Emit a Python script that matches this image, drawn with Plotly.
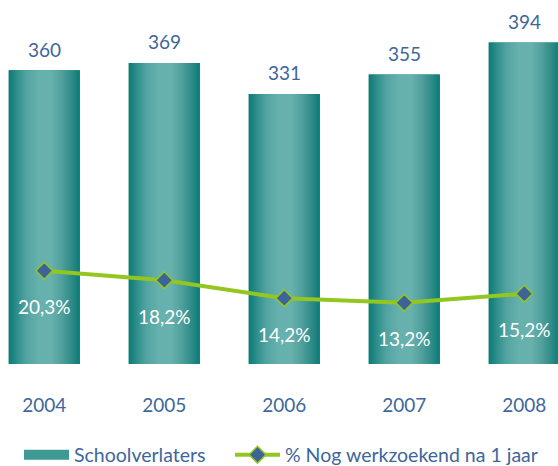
import plotly.graph_objects as go

years = ["2004", "2005", "2006", "2007", "2008"]
schoolverlaters = [360, 369, 331, 355, 394]
pct_werkzoekend = [20.3, 18.2, 14.2, 13.2, 15.2]
pct_labels = ["20,3%", "18,2%", "14,2%", "13,2%", "15,2%"]

name_bars = "Schoolverlaters"
name_line = "% Nog werkzoekend na 1 jaar"

FONT = "Lato"
BLUE = "#3D679C"
TEAL_DARK = "#0B7C78"
GREEN = "#93C71F"
DIAMOND = "#3C6498"
grad = [[0.0, "#0A7B77"], [0.1, "#2B8C88"], [0.25, "#52A4A1"], [0.42, "#66B0AD"],
        [0.6, "#67B1AE"], [0.75, "#4F9F9C"], [0.9, "#2A8985"], [1.0, "#0A7B77"]]

xs = list(range(len(years)))
bw = 0.592

fig = go.Figure()
fig.add_trace(go.Bar(x=xs, y=schoolverlaters, width=bw, marker=dict(color=TEAL_DARK, line=dict(width=0)),
                     showlegend=False, hoverinfo="skip"))
# gradient overlays drawn on the same axes from the bar values
for x, v in zip(xs, schoolverlaters):
    fig.add_trace(go.Scatter(
        x=[x - bw / 2, x + bw / 2, x + bw / 2, x - bw / 2, x - bw / 2],
        y=[0, 0, v, v, 0], mode="lines", line=dict(width=0), fill="toself",
        fillgradient=dict(type="horizontal", colorscale=grad),
        showlegend=False, hoverinfo="skip"))
# legend entry for the bars
fig.add_trace(go.Scatter(x=[None], y=[None], mode="lines", name=name_bars, legend="legend",
                         line=dict(color="#3E9995", width=13)))
fig.add_trace(go.Scatter(
    x=xs, y=pct_werkzoekend, yaxis="y2", mode="lines+markers", name=name_line, legend="legend2",
    line=dict(color=GREEN, width=4),
    marker=dict(symbol="diamond", size=13, color=DIAMOND, line=dict(color=GREEN, width=1.5))))

for x, v in zip(xs, schoolverlaters):
    fig.add_annotation(x=x, y=v, text=str(v), showarrow=False, yshift=21,
                       font=dict(family=FONT, size=19, color=BLUE))
for x, v, t in zip(xs, pct_werkzoekend, pct_labels):
    fig.add_annotation(x=x, y=v, yref="y2", text=t, showarrow=False, yshift=-36,
                       font=dict(family=FONT, size=19, color="white"))

top, bottom = 10, 364
H = bottom - top
legend_common = dict(orientation="h", xanchor="left", xref="container",
                     y=(466 - 455) / 466, yanchor="middle", yref="container",
                     font=dict(family=FONT, size=19.5, color=BLUE), itemwidth=45,
                     bgcolor="rgba(0,0,0,0)")
fig.update_layout(
    template="none",
    width=558, height=466,
    margin=dict(l=0, r=0, t=top, b=466 - bottom, pad=0),
    paper_bgcolor="white", plot_bgcolor="white",
    barmode="overlay",
    font=dict(family=FONT, color=BLUE),
    xaxis=dict(range=[-0.369, -0.369 + 558 / 120], tickvals=xs, ticktext=years,
               showgrid=False, zeroline=False, showline=False, automargin=False,
               ticks="outside", ticklen=24, tickcolor="rgba(0,0,0,0)",
               tickfont=dict(family=FONT, size=19, color=BLUE)),
    yaxis=dict(range=[0, H / 0.8158], visible=False, showgrid=False, automargin=False),
    yaxis2=dict(range=[(362.2 - bottom) / 4.507, (362.2 - top) / 4.507], overlaying="y",
                visible=False, showgrid=False, automargin=False),
    legend=dict(x=19 / 558, **legend_common),
    legend2=dict(x=230 / 558, **legend_common),
    showlegend=True,
)

fig.write_html("out.html", config={"displayModeBar": False},
               post_script="document.body.style.margin='0';document.body.style.overflow='hidden';")
